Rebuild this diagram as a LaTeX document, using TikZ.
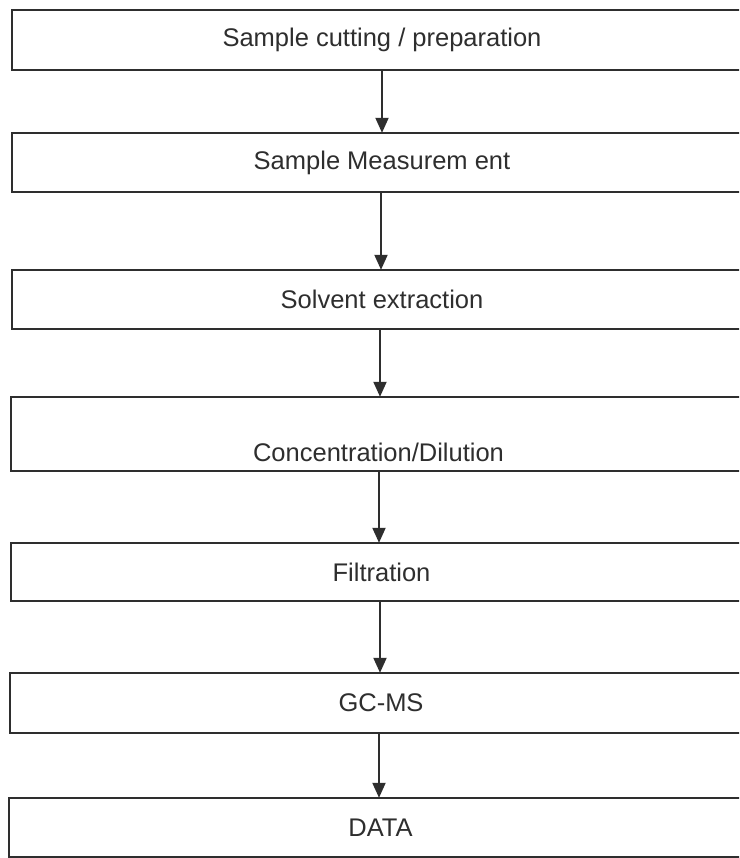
\documentclass[tikz,border=0pt]{standalone}
\usepackage{fontspec}
\setmainfont{Liberation Sans}
\usetikzlibrary{arrows.meta}
\definecolor{ink}{HTML}{2E2E2E}
\begin{document}
\begin{tikzpicture}[x=1pt,y=-1pt,
  stepbox/.style={overlay, draw=none, rectangle, inner sep=0pt, text=ink,
    font=\fontsize{25.5}{30}\selectfont},
  boxline/.style={overlay, draw=ink, line width=2pt, line join=miter},
  arr/.style={overlay, draw=ink, line width=2pt, -{Triangle[length=15pt,width=13pt]}}]
\useasboundingbox (0,0) rectangle (739,858);
\clip (0,0) rectangle (739,858);
\fill[white] (0,0) rectangle (739,858);
% boxes: open on the right, running off the page
\node[stepbox, minimum width=740pt, minimum height=60pt] (b1) at (382,40) {Sample cutting / preparation};
\node[stepbox, minimum width=740pt, minimum height=59pt] (b2) at (382,162.5) {Sample Measurem ent};
\node[stepbox, minimum width=740pt, minimum height=59pt] (b3) at (382,299.5) {Solvent extraction};
\node[stepbox, minimum width=741pt, minimum height=74pt,
  label={[overlay, text=ink, font=\fontsize{25.5}{30}\selectfont, yshift=-18pt, xshift=-3pt]center:Concentration/Dilution}] (b4) at (381.5,434) {};
\node[stepbox, minimum width=741pt, minimum height=58pt] (b5) at (381.5,572) {Filtration};
\node[stepbox, minimum width=742pt, minimum height=60pt] (b6) at (381,703) {GC-MS};
\node[stepbox, minimum width=743pt, minimum height=59pt] (b7) at (380.5,827.5) {DATA};
\foreach \n in {b1,b2,b3,b4,b5,b6,b7}
  \draw[boxline] (\n.north east) -- (\n.north west) -- (\n.south west) -- (\n.south east);
% arrows
\draw[arr] (b1.south) -- (b1.south |- b2.north);
\draw[arr] ([xshift=-1pt]b2.south) -- ([xshift=-1pt]b2.south |- b3.north);
\draw[arr] ([xshift=-2pt]b3.south) -- ([xshift=-2pt]b3.south |- b4.north);
\draw[arr] ([xshift=-2.5pt]b4.south) -- ([xshift=-2.5pt]b4.south |- b5.north);
\draw[arr] ([xshift=-1.5pt]b5.south) -- ([xshift=-1.5pt]b5.south |- b6.north);
\draw[arr] ([xshift=-2pt]b6.south) -- ([xshift=-2pt]b6.south |- b7.north);
\end{tikzpicture}
\end{document}
